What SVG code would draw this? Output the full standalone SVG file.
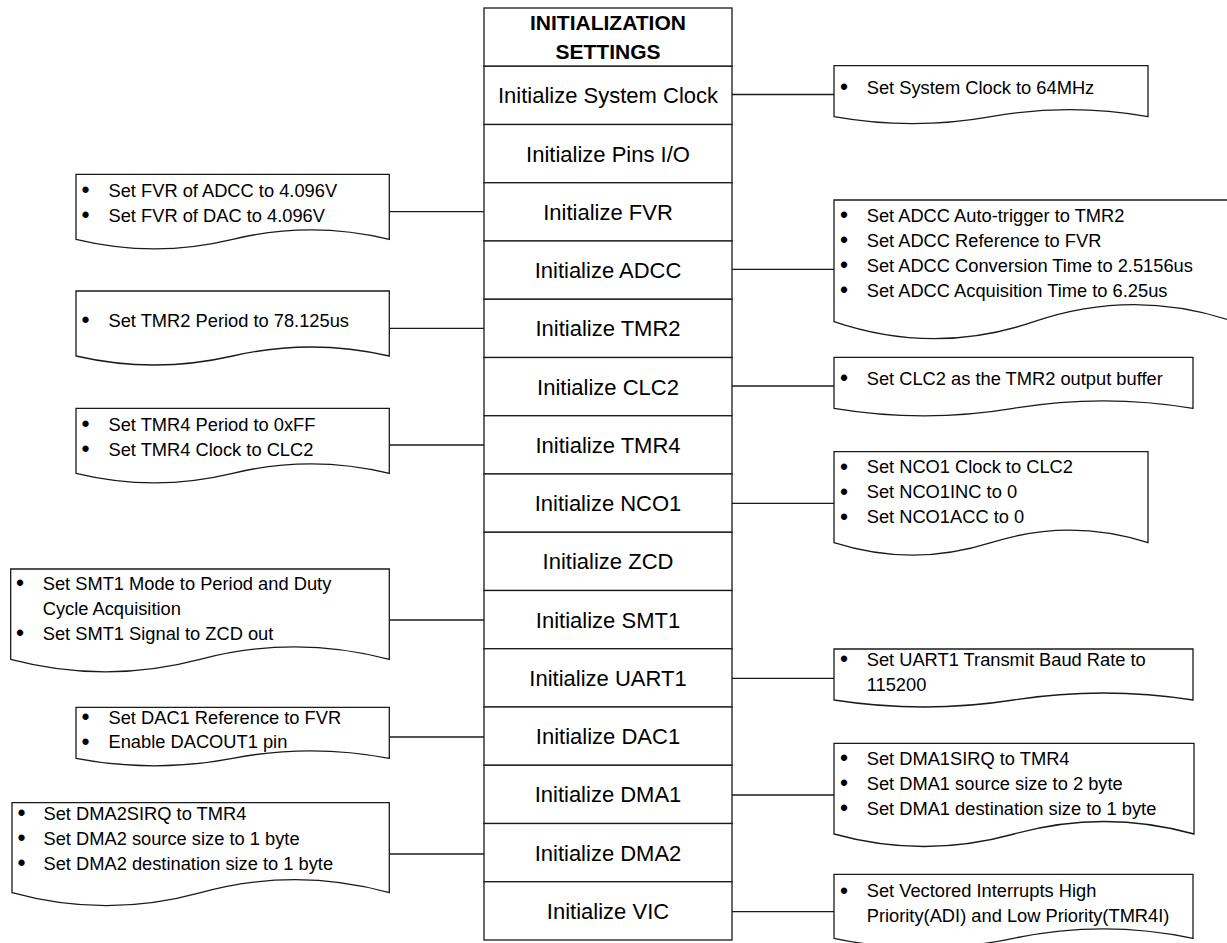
<svg xmlns="http://www.w3.org/2000/svg" width="1227" height="943" viewBox="0 0 1227 943">
<style>
.box{fill:#fff;stroke:#1a1a1a;stroke-width:1.3}
.doc{fill:#fff;stroke:#1a1a1a;stroke-width:1.3;stroke-linejoin:miter}
.con{fill:none;stroke:#1a1a1a;stroke-width:1.3}
.rt{font-family:"Liberation Sans",Arial,sans-serif;font-size:22px;fill:#000;text-anchor:middle}
.hd{font-family:"Liberation Sans",Arial,sans-serif;font-size:21px;font-weight:bold;fill:#000;text-anchor:middle}
.lt{font-family:"Liberation Sans",Arial,sans-serif;font-size:18.3px;fill:#000}
.bu{font-family:"Liberation Sans",Arial,sans-serif;font-size:23px;fill:#000;text-anchor:middle}
</style>
<rect width="1227" height="943" fill="#fff"/>

<g id="connectors">
<path class="con" d="M732,94.5H834"/>
<path class="con" d="M389.3,211.7H484"/>
<path class="con" d="M732,269.3H834"/>
<path class="con" d="M389.3,328.3H484"/>
<path class="con" d="M732,386H834"/>
<path class="con" d="M389.3,445H484"/>
<path class="con" d="M732,503.3H834"/>
<path class="con" d="M389.3,620H484"/>
<path class="con" d="M732,678.3H834"/>
<path class="con" d="M389.3,737H484"/>
<path class="con" d="M732,795H834"/>
<path class="con" d="M389.3,854H484"/>
<path class="con" d="M732,911.7H834"/>
</g>

<g id="header"><rect class="box" x="484" y="8" width="248" height="58.25"/><text class="hd" x="608" y="30">INITIALIZATION</text><text class="hd" x="608" y="59">SETTINGS</text></g>
<g id="row-sysclk"><rect class="box" x="484" y="66.25" width="248" height="58.25"/><text class="rt" x="608" y="103.4">Initialize System Clock</text></g>
<g id="row-pins"><rect class="box" x="484" y="124.5" width="248" height="58.25"/><text class="rt" x="608" y="161.6">Initialize Pins I/O</text></g>
<g id="row-fvr"><rect class="box" x="484" y="182.75" width="248" height="58.25"/><text class="rt" x="608" y="219.9">Initialize FVR</text></g>
<g id="row-adcc"><rect class="box" x="484" y="241" width="248" height="58.25"/><text class="rt" x="608" y="278.1">Initialize ADCC</text></g>
<g id="row-tmr2"><rect class="box" x="484" y="299.25" width="248" height="58.25"/><text class="rt" x="608" y="336.4">Initialize TMR2</text></g>
<g id="row-clc2"><rect class="box" x="484" y="357.5" width="248" height="58.25"/><text class="rt" x="608" y="394.6">Initialize CLC2</text></g>
<g id="row-tmr4"><rect class="box" x="484" y="415.75" width="248" height="58.25"/><text class="rt" x="608" y="452.9">Initialize TMR4</text></g>
<g id="row-nco1"><rect class="box" x="484" y="474" width="248" height="58.25"/><text class="rt" x="608" y="511.1">Initialize NCO1</text></g>
<g id="row-zcd"><rect class="box" x="484" y="532.25" width="248" height="58.25"/><text class="rt" x="608" y="569.4">Initialize ZCD</text></g>
<g id="row-smt1"><rect class="box" x="484" y="590.5" width="248" height="58.25"/><text class="rt" x="608" y="627.6">Initialize SMT1</text></g>
<g id="row-uart1"><rect class="box" x="484" y="648.75" width="248" height="58.25"/><text class="rt" x="608" y="685.9">Initialize UART1</text></g>
<g id="row-dac1"><rect class="box" x="484" y="707" width="248" height="58.25"/><text class="rt" x="608" y="744.1">Initialize DAC1</text></g>
<g id="row-dma1"><rect class="box" x="484" y="765.25" width="248" height="58.25"/><text class="rt" x="608" y="802.4">Initialize DMA1</text></g>
<g id="row-dma2"><rect class="box" x="484" y="823.5" width="248" height="58.25"/><text class="rt" x="608" y="860.6">Initialize DMA2</text></g>
<g id="row-vic"><rect class="box" x="484" y="881.75" width="248" height="58.25"/><text class="rt" x="608" y="918.9">Initialize VIC</text></g>

<g id="doc-fvr">
<path class="doc" d="M76,174.3H389.3V239.3Q311,220.3 232.65,239.3T76,239.3Z"/>
<text class="bu" x="85.5" y="198">•</text><text class="lt" x="108.5" y="196.7">Set FVR of ADCC to 4.096V</text>
<text class="bu" x="85.5" y="223">•</text><text class="lt" x="108.5" y="221.7">Set FVR of DAC to 4.096V</text>
</g>
<g id="doc-tmr2">
<path class="doc" d="M76,291H389.3V356Q311,338 232.65,356T76,356Z"/>
<text class="bu" x="85.5" y="328">•</text><text class="lt" x="108.5" y="326.7">Set TMR2 Period to 78.125us</text>
</g>
<g id="doc-tmr4">
<path class="doc" d="M76,408.3H389.3V473.3Q311,454.3 232.65,473.3T76,473.3Z"/>
<text class="bu" x="85.5" y="432">•</text><text class="lt" x="108.5" y="430.7">Set TMR4 Period to 0xFF</text>
<text class="bu" x="85.5" y="457">•</text><text class="lt" x="108.5" y="455.7">Set TMR4 Clock to CLC2</text>
</g>
<g id="doc-smt1">
<path class="doc" d="M10.7,569H389.3V659.3Q294.65,634.3 200,659.3T10.7,659.3Z"/>
<text class="bu" x="20" y="591.3">•</text><text class="lt" x="42.7" y="590">Set SMT1 Mode to Period and Duty</text>
<text class="lt" x="42.7" y="615">Cycle Acquisition</text>
<text class="bu" x="20" y="641.3">•</text><text class="lt" x="42.7" y="640">Set SMT1 Signal to ZCD out</text>
</g>
<g id="doc-dac1">
<path class="doc" d="M76,707.3H389.3V758.3Q311,743.3 232.65,758.3T76,758.3Z"/>
<text class="bu" x="85.5" y="725.3">•</text><text class="lt" x="108.5" y="724">Set DAC1 Reference to FVR</text>
<text class="bu" x="85.5" y="749.6">•</text><text class="lt" x="108.5" y="748.3">Enable DACOUT1 pin</text>
</g>
<g id="doc-dma2">
<path class="doc" d="M12,802.7H389.3V892.7Q295,866.7 200.65,892.7T12,892.7Z"/>
<text class="bu" x="21.5" y="821.3">•</text><text class="lt" x="43.5" y="820">Set DMA2SIRQ to TMR4</text>
<text class="bu" x="21.5" y="846.3">•</text><text class="lt" x="43.5" y="845">Set DMA2 source size to 1 byte</text>
<text class="bu" x="21.5" y="871.3">•</text><text class="lt" x="43.5" y="870">Set DMA2 destination size to 1 byte</text>
</g>

<g id="doc-sysclk">
<path class="doc" d="M834,65.7H1148V116.7Q1069.5,102.7 991,116.7T834,116.7Z"/>
<text class="bu" x="844" y="95.3">•</text><text class="lt" x="866.7" y="94">Set System Clock to 64MHz</text>
</g>
<g id="doc-adcc">
<path class="doc" d="M834,200H1234V321.7Q1134,287.7 1034,321.7T834,321.7Z"/>
<text class="bu" x="844" y="223">•</text><text class="lt" x="866.7" y="221.7">Set ADCC Auto-trigger to TMR2</text>
<text class="bu" x="844" y="248">•</text><text class="lt" x="866.7" y="246.7">Set ADCC Reference to FVR</text>
<text class="bu" x="844" y="273">•</text><text class="lt" x="866.7" y="271.7">Set ADCC Conversion Time to 2.5156us</text>
<text class="bu" x="844" y="298">•</text><text class="lt" x="866.7" y="296.7">Set ADCC Acquisition Time to 6.25us</text>
</g>
<g id="doc-clc2">
<path class="doc" d="M834,357.3H1193V408.3Q1103.25,393.3 1013.5,408.3T834,408.3Z"/>
<text class="bu" x="844" y="386.3">•</text><text class="lt" x="866.7" y="385">Set CLC2 as the TMR2 output buffer</text>
</g>
<g id="doc-nco1">
<path class="doc" d="M834,451.7H1148V542.7Q1069.5,517.7 991,542.7T834,542.7Z"/>
<text class="bu" x="844" y="474.6">•</text><text class="lt" x="866.7" y="473.3">Set NCO1 Clock to CLC2</text>
<text class="bu" x="844" y="499.6">•</text><text class="lt" x="866.7" y="498.3">Set NCO1INC to 0</text>
<text class="bu" x="844" y="524.6">•</text><text class="lt" x="866.7" y="523.3">Set NCO1ACC to 0</text>
</g>
<g id="doc-uart1">
<path class="doc" d="M834,649H1193V700Q1103.25,686 1013.5,700T834,700Z"/>
<text class="bu" x="844" y="667.3">•</text><text class="lt" x="866.7" y="666">Set UART1 Transmit Baud Rate to</text>
<text class="lt" x="866.7" y="691">115200</text>
</g>
<g id="doc-dma1">
<path class="doc" d="M834,743.3H1194V834Q1104,809 1014,834T834,834Z"/>
<text class="bu" x="844" y="766.3">•</text><text class="lt" x="866.7" y="765">Set DMA1SIRQ to TMR4</text>
<text class="bu" x="844" y="791.3">•</text><text class="lt" x="866.7" y="790">Set DMA1 source size to 2 byte</text>
<text class="bu" x="844" y="816.3">•</text><text class="lt" x="866.7" y="815">Set DMA1 destination size to 1 byte</text>
</g>
<g id="doc-vic">
<path class="doc" d="M834,874.3H1193V938.3Q1103.25,919.3 1013.5,938.3T834,938.3Z"/>
<text class="bu" x="844" y="898.6">•</text><text class="lt" x="866.7" y="897.3">Set Vectored Interrupts High</text>
<text class="lt" x="866.7" y="922">Priority(ADI) and Low Priority(TMR4I)</text>
</g>
</svg>
